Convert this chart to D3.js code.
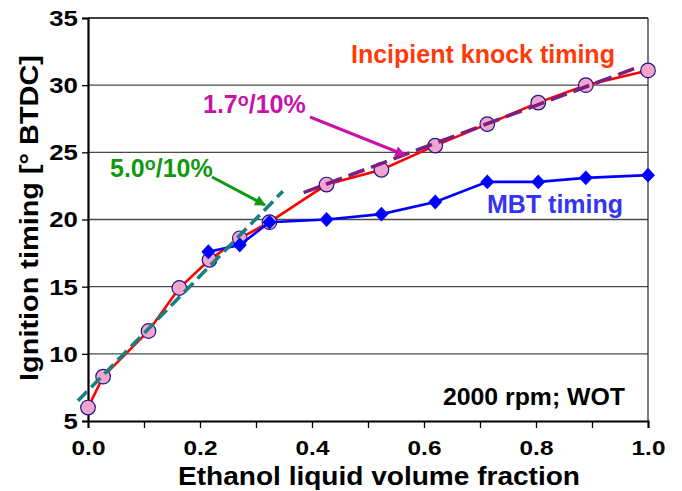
<!DOCTYPE html>
<html>
<head>
<meta charset="utf-8">
<script src="https://cdn.jsdelivr.net/npm/d3@7"></script>
<style>
  html, body { margin: 0; padding: 0; background: #fff; }
  svg { display: block; font-family: "Liberation Sans", Arial, sans-serif; font-weight: bold; }
</style>
</head>
<body>
<svg id="chart" width="682" height="491"></svg>
<script>
// Ethanol fraction vs. ignition timing at 2000 rpm, WOT
const knockX = [0.0, 0.027, 0.108, 0.163, 0.217, 0.271, 0.324, 0.426, 0.524, 0.620, 0.713, 0.804, 0.889, 1.0];
const knockY = [6.0, 8.3, 11.7, 14.9, 17.0, 18.6, 19.8, 22.6, 23.7, 25.5, 27.1, 28.7, 30.0, 31.1];
const mbtX = [0.215, 0.271, 0.324, 0.426, 0.524, 0.620, 0.713, 0.804, 0.889, 1.0];
const mbtY = [17.6, 18.1, 19.8, 20.0, 20.4, 21.3, 22.8, 22.8, 23.1, 23.3];
// Linear trends of the knock-limited timing (low and high ethanol ranges)
const trendLowX = [-0.018, 0.348];
const trendLowY = [6.5, 22.1];
const trendHighX = [0.385, 0.986];
const trendHighY = [22.0, 31.4];
const xTicks = [0.0, 0.2, 0.4, 0.6, 0.8, 1.0];
const xMinorTicks = [0.1, 0.3, 0.5, 0.7, 0.9];
const yTicks = [5, 10, 15, 20, 25, 30, 35];

const svg = d3.select("#chart");
const m = { left: 88, top: 18, right: 34, bottom: 70 };
const W = 682 - m.left - m.right, H = 491 - m.top - m.bottom;

const x = d3.scaleLinear().domain([0, 1]).range([m.left, m.left + W]);
const y = d3.scaleLinear().domain([5, 35]).range([m.top + H, m.top]);

// horizontal grid
svg.append("g").selectAll("line").data(yTicks.filter(d => d > 5)).join("line")
  .attr("x1", x(0)).attr("x2", x(1))
  .attr("y1", d => y(d)).attr("y2", d => y(d))
  .attr("stroke", d => d === 35 ? "#000" : "#4a4a4a").attr("stroke-width", 1.3);

// right border
svg.append("line").attr("x1", x(1)).attr("x2", x(1)).attr("y1", y(35)).attr("y2", y(5))
  .attr("stroke", "#333").attr("stroke-width", 1.3);

const FONT = "Liberation Sans, Arial, sans-serif";

// axes
const xAxis = d3.axisBottom(x).tickValues(xTicks).tickFormat(d3.format(".1f")).tickSize(7).tickPadding(12);
const gx = svg.append("g").attr("transform", `translate(0,${y(5)})`).call(xAxis);
gx.select(".domain").attr("stroke", "#000").attr("stroke-width", 2);
gx.selectAll(".tick line").attr("stroke", "#000").attr("stroke-width", 1.3);
gx.selectAll("text").attr("font-size", 21).attr("font-weight", "bold").attr("fill", "#000")
  .attr("font-family", FONT).attr("transform", "scale(1.16,1)");
svg.append("g").attr("transform", `translate(0,${y(5)})`)
  .call(d3.axisBottom(x).tickValues(xMinorTicks).tickFormat("").tickSize(7))
  .call(g => g.select(".domain").remove())
  .selectAll("line").attr("stroke", "#000").attr("stroke-width", 1.3);

const yAxis = d3.axisLeft(y).tickValues(yTicks).tickSize(6).tickPadding(3);
const gy = svg.append("g").attr("transform", `translate(${x(0)},0)`).call(yAxis);
gy.select(".domain").attr("stroke", "#000").attr("stroke-width", 2.2);
gy.selectAll(".tick line").attr("stroke", "#000").attr("stroke-width", 1.3);
gy.selectAll("text").attr("font-size", 23).attr("font-weight", "bold").attr("fill", "#000")
  .attr("font-family", FONT).attr("transform", "scale(1.12,1)");

// axis titles
svg.append("g").attr("transform", "translate(379,485) scale(1.1,1)")
  .append("text").attr("text-anchor", "middle").attr("font-size", 25.5)
  .text("Ethanol liquid volume fraction");
svg.append("g").attr("transform", "translate(38,218) rotate(-90) scale(1.09,1)")
  .append("text").attr("text-anchor", "middle").attr("font-size", 26.5)
  .text("Ignition timing [° BTDC]");

const line = d3.line().x(d => x(d[0])).y(d => y(d[1]));
const knock = knockX.map((v, i) => [v, knockY[i]]);
const mbt = mbtX.map((v, i) => [v, mbtY[i]]);

// knock-limited timing
svg.append("path").datum(knock).attr("d", line)
  .attr("fill", "none").attr("stroke", "#ff0000").attr("stroke-width", 2.6);
svg.append("g").selectAll("circle").data(knock).join("circle")
  .attr("cx", d => x(d[0])).attr("cy", d => y(d[1])).attr("r", 7.3)
  .attr("fill", "#f5a3cf").attr("stroke", "#1a1a80").attr("stroke-width", 1.2);

// MBT timing
svg.append("path").datum(mbt).attr("d", line)
  .attr("fill", "none").attr("stroke", "#0000ff").attr("stroke-width", 2.6);
svg.append("g").selectAll("path").data(mbt).join("path")
  .attr("d", d3.symbol(d3.symbolDiamond2, 125))
  .attr("transform", d => `translate(${x(d[0])},${y(d[1])}) scale(1,1.06)`)
  .attr("fill", "#0000ff");

// trend lines
svg.append("path").datum(trendLowX.map((v, i) => [v, trendLowY[i]])).attr("d", line)
  .attr("fill", "none").attr("stroke", "#1a7f7f").attr("stroke-width", 3.6)
  .attr("stroke-dasharray", "13,6");
svg.append("path").datum(trendHighX.map((v, i) => [v, trendHighY[i]])).attr("d", line)
  .attr("fill", "none").attr("stroke", "#7a1f7f").attr("stroke-width", 3.6)
  .attr("stroke-dasharray", "17,7");

// arrows
const defs = svg.append("defs");
function marker(id, color) {
  defs.append("marker").attr("id", id).attr("viewBox", "0 0 10 10")
    .attr("refX", 9).attr("refY", 5).attr("markerWidth", 4.2).attr("markerHeight", 3.6)
    .attr("markerUnits", "strokeWidth").attr("orient", "auto")
    .append("path").attr("d", "M0,0 L10,5 L0,10 Z").attr("fill", color);
}
marker("arrG", "#129912");
marker("arrM", "#c614a8");
svg.append("line").attr("x1", 212).attr("y1", 177).attr("x2", 265).attr("y2", 205)
  .attr("stroke", "#129912").attr("stroke-width", 3).attr("marker-end", "url(#arrG)");
svg.append("line").attr("x1", 310).attr("y1", 117).attr("x2", 405).attr("y2", 155)
  .attr("stroke", "#c614a8").attr("stroke-width", 3).attr("marker-end", "url(#arrM)");

// slope labels
function slopeLabel(xp, yp, num, color) {
  const t = svg.append("text").attr("x", xp).attr("y", yp).attr("font-size", 25).attr("fill", color);
  t.append("tspan").text(num);
  t.append("tspan").attr("font-size", 18).attr("dy", -7).text("o");
  t.append("tspan").attr("dy", 7).text("/10%");
}
slopeLabel(110, 177, "5.0", "#129912");
slopeLabel(203, 113, "1.7", "#c614a8");

// series labels
svg.append("text").attr("x", 351).attr("y", 63).attr("font-size", 25).attr("fill", "#ff3a0a")
  .text("Incipient knock timing");
svg.append("text").attr("x", 487).attr("y", 213).attr("font-size", 25).attr("fill", "#3434f5")
  .text("MBT timing");
svg.append("g").attr("transform", "translate(625,405) scale(1.08,1)")
  .append("text").attr("text-anchor", "end").attr("font-size", 23)
  .attr("fill", "#000").text("2000 rpm; WOT");
</script>
</body>
</html>
